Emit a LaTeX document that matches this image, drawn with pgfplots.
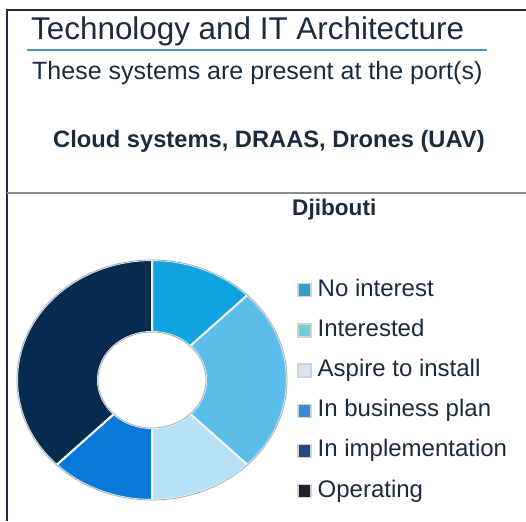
\documentclass[border=0pt]{standalone}
\usepackage{pgfplots}
\pgfplotsset{compat=1.18}
\usepackage{pgfplotstable}
\usepackage{fontspec}
\setmainfont{Liberation Sans}

\definecolor{txt}{HTML}{1A2B3D}
\definecolor{frame}{HTML}{1E2E40}
\definecolor{uline}{HTML}{4A94BC}
\definecolor{sep}{HTML}{EEF7FC}
% slice colours
\definecolor{slc0}{HTML}{0FA3E0}
\definecolor{slc1}{HTML}{5BBDEA}
\definecolor{slc2}{HTML}{B6E1F6}
\definecolor{slc3}{HTML}{0A78D8}
\definecolor{slc4}{HTML}{1F4F85}
\definecolor{slc5}{HTML}{062B4E}
% legend marker colours
\definecolor{leg0}{HTML}{2E9FC8}
\definecolor{leg1}{HTML}{74CDD6}
\definecolor{leg2}{HTML}{D4E6F2}
\definecolor{leg3}{HTML}{3C87D6}
\definecolor{leg4}{HTML}{22497A}
\definecolor{leg5}{HTML}{1A2430}

\pgfplotstableread[col sep=comma]{
label,value
No interest,1
Interested,2
Aspire to install,1
In business plan,1
In implementation,0
Operating,3
}\donut

\pgfplotsset{sqleg/.style={legend image code/.code={%
  \draw[##1] (0.5pt,-6.5pt) rectangle (13.5pt,6.5pt);}}}

\begin{document}
\begin{tikzpicture}
\useasboundingbox (0,0) rectangle (526pt,-521pt);

% cumulative angles, clockwise from the top
\pgfplotstablegetrowsof{\donut}
\pgfmathtruncatemacro\nrows{\pgfplotsretval-1}
\def\tot{0}
\pgfplotsforeachungrouped \i in {0,...,\nrows}{%
  \pgfplotstablegetelem{\i}{value}\of\donut
  \pgfmathsetmacro\tot{\tot+\pgfplotsretval}}
\def\cum{0}
\pgfplotsforeachungrouped \i in {0,...,\nrows}{%
  \pgfmathsetmacro\sa{90-360*\cum/\tot}
  \pgfplotstablegetelem{\i}{value}\of\donut
  \pgfmathsetmacro\cum{\cum+\pgfplotsretval}
  \pgfmathsetmacro\ea{90-360*\cum/\tot}
  \expandafter\xdef\csname sa\i\endcsname{\sa}
  \expandafter\xdef\csname ea\i\endcsname{\ea}}

% frame and headings
\draw[line width=2pt, frame] (526pt,-10pt) -- (7pt,-10pt) -- (7pt,-521pt);
\draw[line width=1.8pt, black!45] (7pt,-193pt) -- (526pt,-193pt);
\draw[line width=2.5pt, uline] (27pt,-50pt) -- (487pt,-50pt);
\node[anchor=base west, inner sep=0pt, text=txt, font=\fontsize{31.4}{31.4}\selectfont]
  at (31pt,-40pt) {Technology and IT Architecture};
\node[anchor=base west, inner sep=0pt, text=txt, font=\fontsize{25}{25}\selectfont]
  at (32pt,-80pt) {These systems are present at the port(s)};
\node[anchor=base west, inner sep=0pt, text=txt, font=\bfseries\fontsize{23.7}{23.7}\selectfont]
  at (53pt,-148pt) {Cloud systems, DRAAS, Drones (UAV)};
\node[anchor=base west, inner sep=0pt, text=txt, font=\bfseries\fontsize{22.6}{22.6}\selectfont]
  at (292pt,-215pt) {Djibouti};

\begin{axis}[
    at={(17pt,-500pt)}, anchor=south west,
    scale only axis, width=270pt, height=240pt,
    xmin=-1, xmax=1, ymin=-1, ymax=1,
    hide axis, clip=false,
    legend cell align=left,
    legend style={at={(1.037,0.921)}, anchor=north west,
      draw=none, fill=none, inner sep=0pt,
      row sep=18.2pt, column sep=6pt,
      font=\fontsize{24}{24}\selectfont,
      nodes={inner sep=0pt, text height=17pt, text depth=5pt, text=txt}},
]
\pgfplotsinvokeforeach{0,...,\nrows}{
  \fill[fill=slc#1, draw=sep, line width=2pt, line join=round]
    (axis cs:{cos(\csname sa#1\endcsname)},{sin(\csname sa#1\endcsname)})
    arc[start angle=\csname sa#1\endcsname, end angle=\csname ea#1\endcsname,
        x radius=135pt, y radius=120pt]
    -- (axis cs:{0.4*cos(\csname ea#1\endcsname)},{0.4*sin(\csname ea#1\endcsname)})
    arc[start angle=\csname ea#1\endcsname, end angle=\csname sa#1\endcsname,
        x radius=54pt, y radius=48pt]
    -- cycle;
}
\draw[black!35, line width=0.7pt] (axis cs:0,0) ellipse [x radius=135pt, y radius=120pt];
\draw[black!35, line width=0.7pt] (axis cs:0,0) ellipse [x radius=54pt, y radius=48pt];

\addlegendimage{sqleg, fill=leg0, draw=black!18, line width=1.5pt}
\addlegendentry{No interest}
\addlegendimage{sqleg, fill=leg1, draw=black!18, line width=1.5pt}
\addlegendentry{Interested}
\addlegendimage{sqleg, fill=leg2, draw=black!18, line width=1.5pt}
\addlegendentry{Aspire to install}
\addlegendimage{sqleg, fill=leg3, draw=black!18, line width=1.5pt}
\addlegendentry{In business plan}
\addlegendimage{sqleg, fill=leg4, draw=black!18, line width=1.5pt}
\addlegendentry{In implementation}
\addlegendimage{sqleg, fill=leg5, draw=black!18, line width=1.5pt}
\addlegendentry{Operating}
\end{axis}
\end{tikzpicture}
\end{document}
